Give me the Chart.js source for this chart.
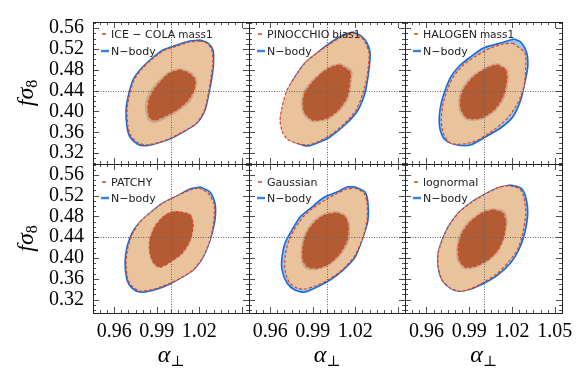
<!DOCTYPE html>
<html>
<head>
<meta charset="utf-8">
<script src="https://cdn.jsdelivr.net/npm/chart.js@4.4.0/dist/chart.umd.min.js"></script>
<style>
  html, body { margin: 0; padding: 0; background: #fff; }
  #wrap { position: relative; width: 581px; height: 388px; }
  #wrap canvas { position: absolute; left: 0; top: 0; }
</style>
</head>
<body>
<div id="wrap"></div>
<script>
// axis ranges and ticks
const xRange = [0.945, 1.055];
const yRangeTop = [0.299, 0.572];
const yRangeBottom = [0.294, 0.581];
const xTickLabels = [0.96, 0.99, 1.02, 1.05];
const yTickLabels = [0.32, 0.36, 0.40, 0.44, 0.48, 0.52, 0.56];
const fiducial = [1.0, 0.44];

// mock names shown in the legends
const mockNames = ['ICE \u2212 COLA', 'PINOCCHIO', 'HALOGEN', 'PATCHY', 'Gaussian', 'lognormal'];
const mockSubs = ['mass1', 'bias1', 'mass1', '', '', ''];

// contours [alpha_perp, f sigma8]
// ICE-COLA
const iceNbodyOuter = [[1.0205,0.5374],[1.0261,0.5316],[1.0296,0.5182],[1.0300,0.4932],[1.0289,0.4662],[1.0272,0.4412],[1.0240,0.4028],[1.0183,0.3778],[1.0084,0.3605],[0.9990,0.3470],[0.9901,0.3390],[0.9817,0.3340],[0.9760,0.3380],[0.9711,0.3509],[0.9690,0.3701],[0.9683,0.4028],[0.9697,0.4278],[0.9732,0.4605],[0.9781,0.4797],[0.9852,0.4989],[0.9944,0.5182],[1.0042,0.5278],[1.0134,0.5355]];
const iceMockOuter = [[1.0205,0.5355],[1.0261,0.5297],[1.0289,0.5162],[1.0296,0.4932],[1.0282,0.4662],[1.0268,0.4412],[1.0236,0.4028],[1.0180,0.3778],[1.0080,0.3605],[0.9986,0.3475],[0.9901,0.3395],[0.9817,0.3355],[0.9767,0.3400],[0.9718,0.3528],[0.9697,0.3701],[0.9690,0.4028],[0.9704,0.4278],[0.9739,0.4605],[0.9788,0.4797],[0.9859,0.4989],[0.9944,0.5162],[1.0042,0.5258],[1.0134,0.5335]];
const iceNbodyInner = [[1.0064,0.4835],[1.0141,0.4758],[1.0183,0.4624],[1.0176,0.4412],[1.0134,0.4182],[1.0056,0.4009],[0.9958,0.3855],[0.9880,0.3778],[0.9838,0.3835],[0.9817,0.4028],[0.9824,0.4239],[0.9866,0.4451],[0.9922,0.4624],[0.9993,0.4778]];
const iceMockInner = [[1.0064,0.4797],[1.0134,0.4720],[1.0169,0.4605],[1.0162,0.4412],[1.0120,0.4220],[1.0049,0.4047],[0.9958,0.3912],[0.9887,0.3835],[0.9852,0.3874],[0.9838,0.4028],[0.9845,0.4220],[0.9880,0.4412],[0.9930,0.4585],[0.9993,0.4739]];
// PINOCCHIO
const pinNbodyOuter = [[1.0183,0.5528],[1.0240,0.5451],[1.0282,0.5316],[1.0303,0.5143],[1.0303,0.4989],[1.0289,0.4662],[1.0268,0.4355],[1.0219,0.4028],[1.0141,0.3778],[1.0021,0.3509],[0.9930,0.3393],[0.9859,0.3335],[0.9788,0.3393],[0.9725,0.3489],[0.9690,0.3643],[0.9676,0.3835],[0.9690,0.4085],[0.9725,0.4412],[0.9774,0.4662],[0.9845,0.4932],[0.9930,0.5124],[1.0021,0.5316],[1.0113,0.5470]];
const pinMockOuter = [[1.0183,0.5509],[1.0240,0.5432],[1.0275,0.5297],[1.0296,0.5124],[1.0296,0.4989],[1.0282,0.4662],[1.0254,0.4355],[1.0205,0.4028],[1.0127,0.3778],[1.0014,0.3528],[0.9930,0.3412],[0.9859,0.3355],[0.9781,0.3393],[0.9718,0.3470],[0.9683,0.3624],[0.9669,0.3835],[0.9683,0.4085],[0.9718,0.4412],[0.9774,0.4662],[0.9845,0.4932],[0.9930,0.5124],[1.0021,0.5297],[1.0113,0.5451]];
const pinNbodyInner = [[1.0092,0.4932],[1.0176,0.4797],[1.0176,0.4605],[1.0155,0.4259],[1.0085,0.3990],[1.0000,0.3835],[0.9894,0.3797],[0.9831,0.3951],[0.9817,0.4162],[0.9831,0.4374],[0.9887,0.4585],[0.9965,0.4778],[1.0035,0.4893]];
const pinMockInner = [[1.0092,0.4893],[1.0162,0.4758],[1.0162,0.4605],[1.0141,0.4278],[1.0078,0.4028],[1.0000,0.3874],[0.9901,0.3835],[0.9845,0.3970],[0.9831,0.4162],[0.9845,0.4355],[0.9894,0.4547],[0.9965,0.4739],[1.0035,0.4855]];
// HALOGEN
const halNbodyOuter = [[1.0212,0.5393],[1.0261,0.5335],[1.0303,0.5124],[1.0310,0.4855],[1.0289,0.4547],[1.0261,0.4220],[1.0205,0.3893],[1.0120,0.3682],[1.0000,0.3489],[0.9908,0.3355],[0.9817,0.3355],[0.9732,0.3451],[0.9697,0.3643],[0.9690,0.3893],[0.9704,0.4162],[0.9732,0.4412],[0.9767,0.4643],[0.9824,0.4855],[0.9908,0.5047],[1.0000,0.5220],[1.0120,0.5316],[1.0190,0.5374]];
const halMockOuter = [[1.0205,0.5316],[1.0289,0.5124],[1.0296,0.4855],[1.0282,0.4470],[1.0240,0.4162],[1.0169,0.3874],[1.0071,0.3643],[0.9958,0.3451],[0.9859,0.3374],[0.9767,0.3393],[0.9718,0.3585],[0.9704,0.3835],[0.9718,0.4162],[0.9746,0.4412],[0.9788,0.4662],[0.9859,0.4893],[0.9958,0.5085],[1.0049,0.5220],[1.0141,0.5297]];
const halNbodyInner = [[1.0099,0.4932],[1.0169,0.4816],[1.0176,0.4605],[1.0148,0.4259],[1.0078,0.3990],[0.9979,0.3835],[0.9880,0.3835],[0.9831,0.4009],[0.9824,0.4220],[0.9845,0.4432],[0.9915,0.4682],[1.0000,0.4835],[1.0064,0.4912]];
const halMockInner = [[1.0099,0.4893],[1.0155,0.4797],[1.0162,0.4605],[1.0134,0.4278],[1.0071,0.4028],[0.9979,0.3874],[0.9887,0.3874],[0.9845,0.4028],[0.9838,0.4220],[0.9859,0.4412],[0.9922,0.4643],[1.0000,0.4797],[1.0064,0.4874]];
// PATCHY
const patNbodyOuter = [[1.0205,0.5367],[1.0275,0.5270],[1.0310,0.5058],[1.0310,0.4731],[1.0275,0.4345],[1.0226,0.4018],[1.0155,0.3767],[1.0042,0.3575],[0.9944,0.3440],[0.9852,0.3363],[0.9781,0.3343],[0.9725,0.3420],[0.9690,0.3575],[0.9676,0.3902],[0.9690,0.4211],[0.9725,0.4480],[0.9781,0.4692],[0.9852,0.4866],[0.9944,0.5058],[1.0042,0.5193],[1.0134,0.5328]];
const patMockOuter = [[1.0198,0.5348],[1.0261,0.5251],[1.0303,0.5039],[1.0303,0.4731],[1.0275,0.4345],[1.0226,0.4018],[1.0155,0.3767],[1.0042,0.3575],[0.9944,0.3459],[0.9852,0.3382],[0.9781,0.3363],[0.9732,0.3440],[0.9697,0.3575],[0.9683,0.3902],[0.9697,0.4211],[0.9732,0.4480],[0.9781,0.4692],[0.9852,0.4866],[0.9944,0.5058],[1.0042,0.5193],[1.0134,0.5309]];
const patNbodyInner = [[1.0064,0.4904],[1.0141,0.4847],[1.0162,0.4634],[1.0141,0.4326],[1.0085,0.4076],[0.9993,0.3902],[0.9915,0.3806],[0.9873,0.3883],[0.9845,0.4095],[0.9845,0.4365],[0.9880,0.4615],[0.9944,0.4808],[1.0007,0.4904]];
const patMockInner = [[1.0064,0.4885],[1.0134,0.4827],[1.0155,0.4634],[1.0134,0.4345],[1.0078,0.4095],[0.9993,0.3922],[0.9922,0.3825],[0.9880,0.3902],[0.9852,0.4095],[0.9852,0.4345],[0.9887,0.4596],[0.9944,0.4789],[1.0007,0.4885]];
// Gaussian
const gauNbodyOuter = [[1.0198,0.5367],[1.0268,0.5270],[1.0289,0.5058],[1.0289,0.4731],[1.0254,0.4403],[1.0198,0.4018],[1.0113,0.3767],[1.0021,0.3575],[0.9930,0.3440],[0.9845,0.3343],[0.9774,0.3382],[0.9718,0.3517],[0.9683,0.3767],[0.9683,0.4018],[0.9704,0.4288],[0.9753,0.4538],[0.9810,0.4789],[0.9894,0.4981],[0.9972,0.5155],[1.0071,0.5270],[1.0141,0.5367]];
const gauMockOuter = [[1.0198,0.5348],[1.0261,0.5251],[1.0282,0.5058],[1.0282,0.4731],[1.0254,0.4403],[1.0190,0.4018],[1.0106,0.3767],[1.0007,0.3575],[0.9915,0.3459],[0.9845,0.3401],[0.9788,0.3420],[0.9732,0.3536],[0.9704,0.3767],[0.9704,0.4018],[0.9725,0.4288],[0.9767,0.4538],[0.9831,0.4789],[0.9901,0.4962],[0.9986,0.5116],[1.0078,0.5251],[1.0141,0.5328]];
const gauNbodyInner = [[1.0071,0.4904],[1.0134,0.4827],[1.0162,0.4634],[1.0155,0.4326],[1.0099,0.4057],[1.0021,0.3864],[0.9930,0.3767],[0.9852,0.3786],[0.9817,0.3941],[0.9817,0.4211],[0.9845,0.4500],[0.9908,0.4731],[0.9986,0.4866]];
const gauMockInner = [[1.0071,0.4866],[1.0127,0.4789],[1.0148,0.4634],[1.0141,0.4345],[1.0092,0.4095],[1.0021,0.3902],[0.9937,0.3806],[0.9866,0.3825],[0.9831,0.3960],[0.9831,0.4211],[0.9859,0.4480],[0.9915,0.4692],[0.9986,0.4827]];
// lognormal
const logNbodyOuter = [[1.0190,0.5405],[1.0261,0.5348],[1.0296,0.5174],[1.0310,0.4866],[1.0289,0.4480],[1.0247,0.4153],[1.0190,0.3902],[1.0099,0.3671],[0.9979,0.3478],[0.9887,0.3382],[0.9824,0.3363],[0.9767,0.3420],[0.9711,0.3575],[0.9683,0.3825],[0.9683,0.4095],[0.9711,0.4345],[0.9753,0.4596],[0.9824,0.4866],[0.9908,0.5058],[1.0000,0.5213],[1.0099,0.5348],[1.0155,0.5386]];
const logMockOuter = [[1.0190,0.5386],[1.0254,0.5328],[1.0282,0.5174],[1.0296,0.4866],[1.0275,0.4480],[1.0240,0.4172],[1.0176,0.3922],[1.0092,0.3690],[0.9979,0.3498],[0.9887,0.3382],[0.9824,0.3363],[0.9767,0.3420],[0.9711,0.3575],[0.9683,0.3825],[0.9683,0.4095],[0.9711,0.4345],[0.9753,0.4596],[0.9824,0.4866],[0.9908,0.5058],[1.0000,0.5213],[1.0099,0.5348],[1.0155,0.5386]];
const logNbodyInner = [[1.0071,0.4962],[1.0148,0.4904],[1.0169,0.4692],[1.0148,0.4384],[1.0106,0.4114],[1.0028,0.3922],[0.9944,0.3806],[0.9866,0.3786],[0.9817,0.3941],[0.9810,0.4211],[0.9838,0.4500],[0.9901,0.4731],[0.9993,0.4904]];
const logMockInner = [[1.0071,0.4924],[1.0134,0.4866],[1.0155,0.4692],[1.0141,0.4403],[1.0099,0.4153],[1.0028,0.3960],[0.9944,0.3844],[0.9873,0.3825],[0.9831,0.3960],[0.9824,0.4211],[0.9852,0.4480],[0.9908,0.4692],[0.9993,0.4866]];

const nbodyOuters = [iceNbodyOuter, pinNbodyOuter, halNbodyOuter, patNbodyOuter, gauNbodyOuter, logNbodyOuter];
const mockOuters = [iceMockOuter, pinMockOuter, halMockOuter, patMockOuter, gauMockOuter, logMockOuter];
const nbodyInners = [iceNbodyInner, pinNbodyInner, halNbodyInner, patNbodyInner, gauNbodyInner, logNbodyInner];
const mockInners = [iceMockInner, pinMockInner, halMockInner, patMockInner, gauMockInner, logMockInner];

// layout of the 2x3 grid (pixels)
const W = 581, H = 388;
const colLeft = [93, 249, 405], colRight = [249, 405, 562];
const rowTop = [22, 164], rowBottom = [164, 313];

const nbodyLine = '#1d6ad6', nbodyFill = '#98c6f2';
const mockLine = '#e2411d', mockOuterFill = '#e8c39c', mockInnerFill = '#b35b33', haloFill = '#c6a78b';
const serif = '"Liberation Serif", "DejaVu Serif", serif';
const sans = '"DejaVu Sans", sans-serif';

function closed(pts) {
  const out = pts.map(p => ({x: p[0], y: p[1]}));
  out.push({x: pts[0][0], y: pts[0][1]});
  return out;
}

function contour(label, pts, fillColor, lineColor, width, dashed) {
  return {
    label: label,
    data: closed(pts),
    fill: 'shape',
    backgroundColor: fillColor,
    borderColor: lineColor || 'rgba(0,0,0,0)',
    borderWidth: width || 1,
    borderDash: dashed ? [3, 2] : [],
    pointRadius: 0,
    tension: 0.25
  };
}

function seg(ctx, x1, y1, x2, y2) {
  ctx.beginPath(); ctx.moveTo(x1, y1); ctx.lineTo(x2, y2); ctx.stroke();
}

function decor(i, row, col) {
  return {
    id: 'decor',
    afterDatasetsDraw(chart) {
      const {ctx, chartArea: a, scales: {x, y}} = chart;
      ctx.save();
      ctx.strokeStyle = '#666';
      ctx.lineWidth = 1;
      ctx.setLineDash([1, 1.5]);
      const fx = Math.round(x.getPixelForValue(fiducial[0])) + 0.5;
      const fy = Math.round(y.getPixelForValue(fiducial[1])) + 0.5;
      seg(ctx, fx, a.top, fx, a.bottom);
      seg(ctx, a.left, fy, a.right, fy);
      ctx.restore();
    },
    afterDraw(chart) {
      const {ctx, chartArea: a, scales: {x, y}} = chart;
      ctx.save();
      // frame
      ctx.strokeStyle = '#222';
      ctx.lineWidth = 1;
      ctx.strokeRect(a.left + 0.5, a.top + 0.5, a.width, a.height);
      // inward ticks on all sides
      ctx.lineWidth = 0.8;
      for (let k = 190; k <= 210; k++) {
        const v = k * 0.005;
        const major = xTickLabels.some(t => Math.abs(t - v) < 1e-6);
        const len = major ? 6 : 3;
        const px = Math.round(x.getPixelForValue(v)) + 0.5;
        seg(ctx, px, a.bottom, px, a.bottom - len);
        seg(ctx, px, a.top, px, a.top + len);
      }
      const yr = row === 0 ? yRangeTop : yRangeBottom;
      for (let k = Math.ceil(yr[0] * 100); k <= Math.floor(yr[1] * 100); k++) {
        const v = k / 100;
        const major = yTickLabels.some(t => Math.abs(t - v) < 1e-6);
        const len = major ? 6 : 3;
        const py = Math.round(y.getPixelForValue(v)) + 0.5;
        seg(ctx, a.left, py, a.left + len, py);
        seg(ctx, a.right, py, a.right - len, py);
      }
      // legend
      const l = a.left, t = a.top;
      const b1 = t + (row === 0 ? 16 : 22), b2 = t + (row === 0 ? 33 : 38);
      ctx.strokeStyle = mockLine;
      ctx.lineWidth = 1.5;
      seg(ctx, l + 9, b1 - 4, l + 13, b1 - 4);
      ctx.strokeStyle = nbodyFill;
      ctx.lineWidth = 3;
      seg(ctx, l + 8, b2 - 4, l + 16, b2 - 4);
      ctx.strokeStyle = nbodyLine;
      ctx.lineWidth = 1.5;
      seg(ctx, l + 8, b2 - 4, l + 16, b2 - 4);
      ctx.fillStyle = '#222';
      ctx.textBaseline = 'alphabetic';
      ctx.textAlign = 'left';
      ctx.font = '11px ' + sans;
      ctx.fillText(mockNames[i], l + 18, b1);
      if (mockSubs[i]) {
        const w = ctx.measureText(mockNames[i]).width;
        ctx.font = '10.5px ' + sans;
        ctx.fillText(mockSubs[i], l + 18 + w + 3, b1);
      }
      ctx.font = '11px ' + sans;
      ctx.fillText('N\u2212body', l + 18, b2);
      // axis titles
      ctx.fillStyle = '#000';
      if (col === 0) {
        ctx.save();
        ctx.translate(27, (a.top + a.bottom) / 2);
        ctx.rotate(-Math.PI / 2);
        ctx.font = 'italic 24px ' + serif;
        const w1 = ctx.measureText('f\u03c3').width;
        ctx.font = '16px ' + serif;
        const w2 = ctx.measureText('8').width;
        const x0 = -(w1 + w2) / 2;
        ctx.font = 'italic 24px ' + serif;
        ctx.fillText('f\u03c3', x0, 6);
        ctx.font = '16px ' + serif;
        ctx.fillText('8', x0 + w1, 10);
        ctx.restore();
      }
      if (row === 1) {
        const cx = (a.left + a.right) / 2;
        ctx.font = 'italic 24px ' + serif;
        const w1 = ctx.measureText('\u03b1').width;
        ctx.font = '15px "DejaVu Serif", serif';
        const w2 = ctx.measureText('\u22a5').width;
        const x0 = cx - (w1 + w2) / 2;
        ctx.font = 'italic 24px ' + serif;
        ctx.fillText('\u03b1', x0, 362);
        ctx.font = '15px "DejaVu Serif", serif';
        ctx.fillText('\u22a5', x0 + w1, 366);
      }
      ctx.restore();
    }
  };
}

const wrap = document.getElementById('wrap');
for (let i = 0; i < 6; i++) {
  const row = Math.floor(i / 3), col = i % 3;
  const canvas = document.createElement('canvas');
  canvas.width = W;
  canvas.height = H;
  wrap.appendChild(canvas);
  const yr = row === 0 ? yRangeTop : yRangeBottom;
  const xLabels = col === 2 ? xTickLabels : xTickLabels.slice(0, 3);
  // axis boxes fill the margins so their labels are not clipped
  const yBox = colLeft[col], xBox = H - rowBottom[row];

  new Chart(canvas.getContext('2d'), {
    type: 'line',
    data: {
      datasets: [
        contour(mockNames[i] + ' 1\u03c3', mockInners[i], mockInnerFill, mockLine, 1.2, true),
        contour('N-body 1\u03c3', nbodyInners[i], haloFill, null, 1, false),
        contour(mockNames[i], mockOuters[i], mockOuterFill, mockLine, 1.2, true),
        contour('N-body', nbodyOuters[i], nbodyFill, nbodyLine, 1.6, false)
      ]
    },
    options: {
      responsive: false,
      animation: false,
      events: [],
      layout: {padding: {left: 0, top: rowTop[row], right: W - colRight[col], bottom: 0}},
      plugins: {legend: {display: false}, tooltip: {enabled: false}},
      scales: {
        x: {
          type: 'linear',
          min: xRange[0],
          max: xRange[1],
          grid: {display: false, drawTicks: false},
          border: {display: false},
          afterFit: s => { s.height = xBox; },
          afterBuildTicks: s => { s.ticks = xLabels.map(v => ({value: v})); },
          ticks: {
            display: row === 1,
            padding: 7,
            color: '#000',
            maxRotation: 0,
            autoSkip: false,
            font: {family: serif, size: 20},
            callback: v => v.toFixed(2)
          }
        },
        y: {
          type: 'linear',
          min: yr[0],
          max: yr[1],
          grid: {display: false, drawTicks: false},
          border: {display: false},
          afterFit: s => { s.width = yBox; },
          afterBuildTicks: s => { s.ticks = yTickLabels.map(v => ({value: v})); },
          ticks: {
            display: col === 0,
            padding: 9,
            color: '#000',
            autoSkip: false,
            font: {family: serif, size: 20},
            callback: v => v.toFixed(2)
          }
        }
      }
    },
    plugins: [decor(i, row, col)]
  });
}
</script>
</body>
</html>
